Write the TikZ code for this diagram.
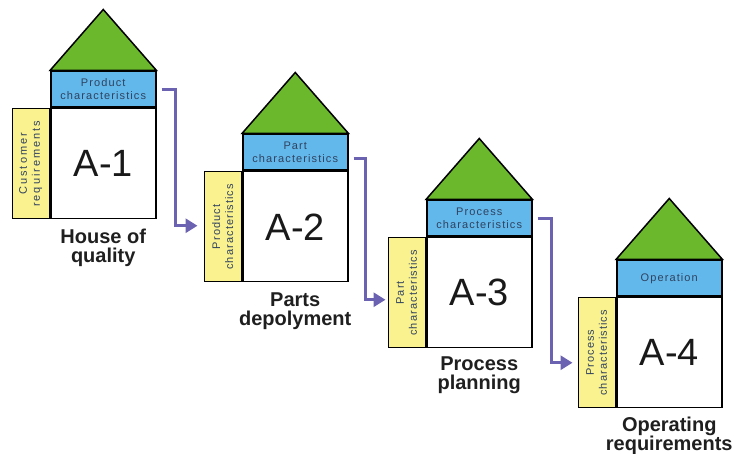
\documentclass[tikz,border=0pt]{standalone}
\usepackage{fontspec}
\setmainfont{Liberation Sans}
\newfontfamily\spacedsans[LetterSpace=10]{Liberation Sans}
\newfontfamily\widesans[LetterSpace=18]{Liberation Sans}
\usetikzlibrary{arrows.meta,positioning}

\definecolor{roofgreen}{RGB}{108,184,44}
\definecolor{skyblue}{RGB}{98,184,234}
\definecolor{paleyellow}{RGB}{250,242,142}
\definecolor{flowviolet}{RGB}{108,98,178}
\definecolor{boxtext}{RGB}{48,66,96}

\tikzset{
  outline/.style={draw=black, line width=1.5pt},
  mainbox/.style={outline, fill=white, minimum width=105pt, minimum height=110pt,
    inner sep=0pt, anchor=north west, text=black!90,
    font=\fontsize{38}{38}\selectfont},
  topbox/.style={outline, fill=skyblue, minimum width=105pt, minimum height=36pt,
    inner sep=0pt, anchor=south, align=center, text=boxtext,
    font=\spacedsans\fontsize{11}{13}\selectfont},
  sidebox/.style={outline, fill=paleyellow, rotate=90, minimum width=110pt,
    minimum height=37pt, inner sep=0pt, anchor=south, align=center, text=boxtext,
    font=\spacedsans\fontsize{11}{13}\selectfont},
  roof/.style={outline, fill=roofgreen, line join=miter},
  caption/.style={inner sep=0pt, outer sep=0pt, align=center, text=black!88,
    font=\bfseries\fontsize{20}{19}\selectfont},
  flow/.style={draw=flowviolet, line width=3pt, line join=miter,
    -{Triangle[length=12pt,width=14pt]}}
}

% one stage of the deployment: main matrix, top header, side header, roof, caption
\newcommand\qfdstage[8]{%
  \node[mainbox] (m#1) at (#2,#3) {#4};
  \node[topbox] (t#1) at (m#1.north) {#5};
  \node[sidebox] (s#1) at (m#1.west) {#6};
  \draw[roof] (t#1.north west) -- ([yshift=61pt]t#1.north) -- (t#1.north east) -- cycle;
  \node[caption, below=#8 of m#1] (c#1) {#7};
}

\begin{document}
\begin{tikzpicture}[x=1pt, y=-1pt]
  \useasboundingbox (0,0) rectangle (737,454);

  \qfdstage{1}{50}{108}{A-1}{Product\\characteristics}{\widesans Customer\\\widesans requirements}{House of\\quality}{10pt}
  \qfdstage{2}{242}{171}{A-2}{Part\\characteristics}{Product\\characteristics}{Parts\\depolyment}{10pt}
  \qfdstage{3}{426}{237}{A-3}{Process\\characteristics}{Part\\characteristics}{Process\\planning}{8pt}
  \qfdstage{4}{616}{297}{A-4}{Operation}{Process\\characteristics}{Operating\\requirements}{9pt}

  % flow from each top header into the side header of the next stage
  \coordinate (e2) at ([xshift=-6pt, yshift=1pt]s2.north);
  \coordinate (e3) at ([xshift=-2pt, yshift=-7pt]s3.north);
  \coordinate (e4) at ([xshift=-5pt, yshift=-10pt]s4.north);

  \draw[flow] ([xshift=5pt]t1.east) -- ++(14,0) |- (e2);
  \draw[flow] ([xshift=5pt, yshift=-6pt]t2.east) -- ++(12,0) |- (e3);
  \draw[flow] ([xshift=5pt]t3.east) -- ++(14,0) |- (e4);
\end{tikzpicture}
\end{document}
